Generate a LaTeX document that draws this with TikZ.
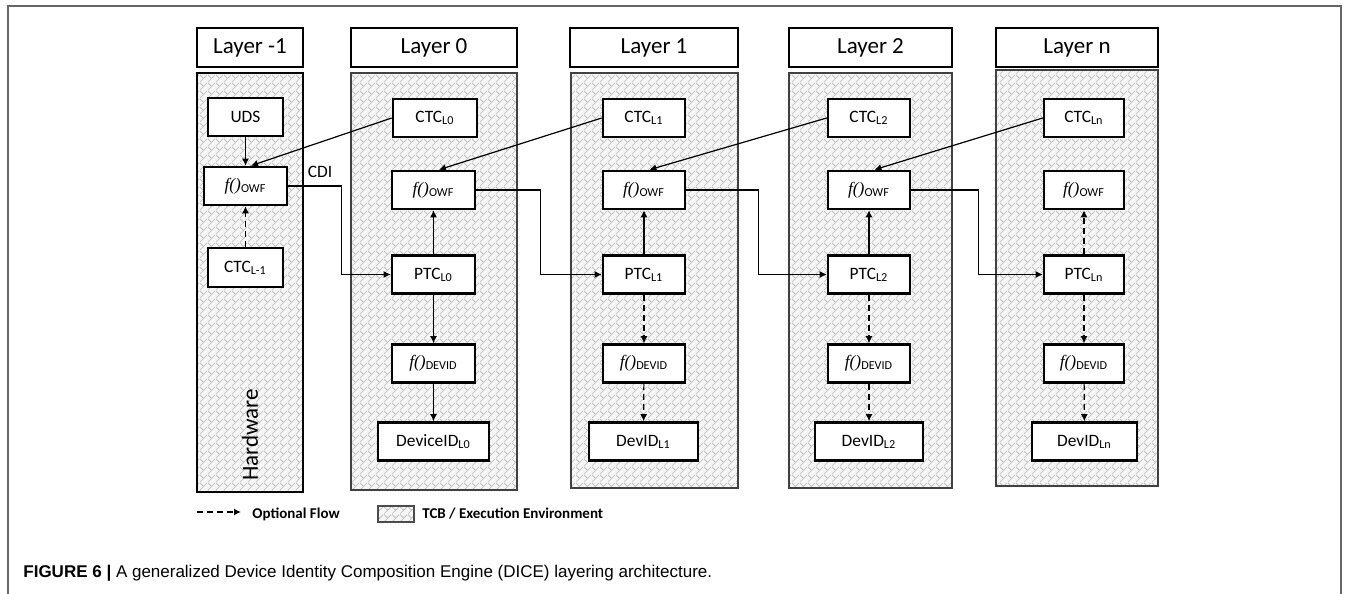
\documentclass[tikz,border=0pt]{standalone}
\usepackage{fontspec}
\setmainfont{Carlito}
\newfontfamily\capfont{Liberation Sans}
\newfontfamily\funfont{Liberation Serif}
\usetikzlibrary{arrows.meta,patterns.meta}

\newcommand{\ffun}[1]{{\funfont\itshape f()}\textsubscript{#1}}

\tikzdeclarepattern{
  name=tcbweave,
  type=uncolored,
  bounding box={(0pt,0pt) and (4pt,4pt)},
  tile size={(4pt,4pt)},
  code={
    \pgfsetlinewidth{0.35pt}
    \pgfpathmoveto{\pgfpoint{0pt}{0pt}}
    \pgfpathlineto{\pgfpoint{4pt}{4pt}}
    \pgfpathmoveto{\pgfpoint{0pt}{4pt}}
    \pgfpathlineto{\pgfpoint{2pt}{2pt}}
    \pgfusepath{stroke}
  }
}

\tikzset{
  layerhead/.style={draw, line width=1.4pt, fill=white, minimum height=19.5pt, font=\fontsize{11.5}{13}\selectfont},
  tcb/.style={draw=black!75, line width=0.6pt, preaction={fill=gray!7}, pattern=tcbweave, pattern color=gray!55},
  blk/.style={draw, line width=1.3pt, fill=white, minimum height=19pt, inner sep=1pt, font=\fontsize{8.7}{10}\selectfont},
  flow/.style={-{Latex[length=3.5pt,width=3.5pt]}, line width=0.6pt},
  opt/.style={flow, dash pattern=on 3pt off 2pt},
}

\begin{document}
\begin{tikzpicture}[x=0.5pt, y=-0.5pt]
        \useasboundingbox (0,0) rectangle (1357,594);
        \draw[black!60, line width=0.6pt] (8,594) |- (1341,6) -- (1341,594);

        % layer headers
        \node[layerhead, minimum width=53pt] (hm1) at (250,47.5) {Layer -1};
        \node[layerhead, minimum width=83pt] (h0) at (434,47.5) {Layer 0};
        \node[layerhead, minimum width=84pt] (h1) at (654,47.5) {Layer 1};
        \node[layerhead, minimum width=81.5pt] (h2) at (870.5,47.5) {Layer 2};
        \node[layerhead, minimum width=81pt] (hn) at (1077,47.5) {Layer n};

        % execution environments
        \draw[tcb, draw=black, line width=1.2pt] (197,73) rectangle (303,492);
        \draw[tcb] (351,73) rectangle (517,490);
        \draw[tcb] (571,73) rectangle (738,488);
        \draw[tcb] (789,73) rectangle (952,488);
        \draw[tcb] (996,70) rectangle (1158,486);

        % layer -1
        \node[blk, minimum width=37.5pt] (uds) at (245.5,117) {UDS};
        \node[blk, minimum width=41.5pt] (owfm) at (245.5,186) {\ffun{OWF}};
        \node[blk, minimum width=37.5pt, minimum height=19.5pt] (ctcm) at (245.5,267.5) {CTC\textsubscript{L-1}};
        \node[rotate=90, font=\fontsize{11.5}{13}\selectfont] (hw) at (250,435) {Hardware};
        \node[font=\fontsize{8.7}{10}\selectfont] (cdi) at (320,172) {CDI};

        % layer 0
        \node[blk, minimum width=42pt] (ctc0) at (435,118) {CTC\textsubscript{L0}};
        \node[blk, minimum width=41.5pt] (owf0) at (433.5,190) {\ffun{OWF}};
        \node[blk, minimum width=41.5pt] (ptc0) at (433.5,274.5) {PTC\textsubscript{L0}};
        \node[blk, minimum width=41.5pt] (fid0) at (433.5,363.5) {\ffun{DEVID}};
        \node[blk, minimum width=55.5pt] (id0) at (433.5,441.5) {DeviceID\textsubscript{L0}};

        % layer 1
        \node[blk, minimum width=41pt] (ctc1) at (644,118) {CTC\textsubscript{L1}};
        \node[blk, minimum width=41pt] (owf1) at (644,190) {\ffun{OWF}};
        \node[blk, minimum width=41pt] (ptc1) at (644,274.5) {PTC\textsubscript{L1}};
        \node[blk, minimum width=41pt] (fid1) at (644,363.5) {\ffun{DEVID}};
        \node[blk, minimum width=54.5pt] (id1) at (643.5,441.5) {DevID\textsubscript{L1}};

        % layer 2
        \node[blk, minimum width=41pt] (ctc2) at (869,118) {CTC\textsubscript{L2}};
        \node[blk, minimum width=41pt] (owf2) at (869,190) {\ffun{OWF}};
        \node[blk, minimum width=41pt] (ptc2) at (869,274.5) {PTC\textsubscript{L2}};
        \node[blk, minimum width=41pt] (fid2) at (869,363.5) {\ffun{DEVID}};
        \node[blk, minimum width=54pt] (id2) at (869,441.5) {DevID\textsubscript{L2}};

        % layer n
        \node[blk, minimum width=40pt] (ctcn) at (1084,118) {CTC\textsubscript{Ln}};
        \node[blk, minimum width=40pt] (owfn) at (1084,190) {\ffun{OWF}};
        \node[blk, minimum width=40pt] (ptcn) at (1084,274.5) {PTC\textsubscript{Ln}};
        \node[blk, minimum width=40pt] (fidn) at (1084,363.5) {\ffun{DEVID}};
        \node[blk, minimum width=52.5pt] (idn) at (1084.5,441.5) {DevID\textsubscript{Ln}};

        % flows
        \draw[flow] (uds) -- (owfm);
        \draw[opt] (ctcm) -- (owfm);
        \draw[flow] (ctc0.west) -- (owfm.75);
        \draw[flow] (owfm.east) -- ++(53,0) |- (ptc0.west);

        \draw[flow] (ptc0) -- (owf0);
        \draw[flow] (ptc0) -- (fid0);
        \draw[flow] (fid0) -- (id0);
        \draw[flow] (ctc1.west) -- (owf0.75);
        \draw[flow] (owf0.east) -- ++(64,0) |- (ptc1.west);

        \draw[flow] (ptc1) -- (owf1);
        \draw[opt] (ptc1) -- (fid1);
        \draw[opt] (fid1) -- (id1);
        \draw[flow] (ctc2.west) -- (owf1.75);
        \draw[flow] (owf1.east) -- ++(72,0) |- (ptc2.west);

        \draw[flow] (ptc2) -- (owf2);
        \draw[opt] (ptc2) -- (fid2);
        \draw[opt] (fid2) -- (id2);
        \draw[flow] (ctcn.west) -- (owf2.75);
        \draw[flow] (owf2.east) -- ++(67,0) |- (ptcn.west);

        \draw[opt] (ptcn) -- (owfn);
        \draw[opt] (ptcn) -- (fidn);
        \draw[opt] (fidn) -- (idn);

        % legend
        \coordinate (lga) at (197,512);
        \coordinate (lgb) at (241,512);
        \draw[opt] (lga) -- (lgb);
        \node[anchor=west, inner sep=0pt, font=\fontsize{7.5}{9}\selectfont\bfseries] (lgopt) at (252,514) {Optional Flow};
        \draw[tcb, draw=black!70] (378,506) rectangle (414,522);
        \node[anchor=west, inner sep=0pt, font=\fontsize{7.5}{9}\selectfont\bfseries] (lgtcb) at (422,514) {TCB / Execution Environment};

        % caption
        \node[anchor=west, inner sep=0pt, font=\capfont\fontsize{8.5}{10}\selectfont] (cap) at (23,573) {\textbf{FIGURE 6 |} A generalized Device Identity Composition Engine (DICE) layering architecture.};
      \end{tikzpicture}
\end{document}
